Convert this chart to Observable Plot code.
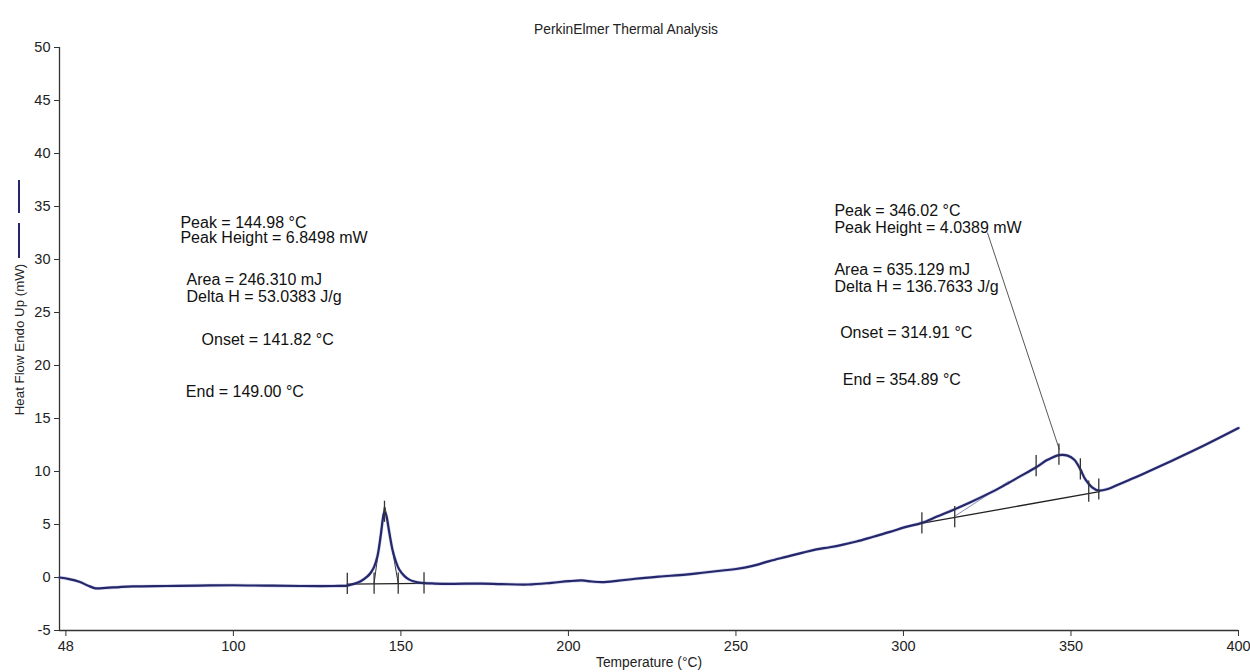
<!DOCTYPE html>
<html>
<head>
<meta charset="utf-8">
<script src="https://cdn.jsdelivr.net/npm/d3@7"></script>
<script src="https://cdn.jsdelivr.net/npm/@observablehq/plot@0.6"></script>
<style>
  html, body { margin: 0; padding: 0; background: #fff; }
  #wrap { position: relative; width: 1250px; height: 672px; font-family: "Liberation Sans", Arial, sans-serif; }
  #title { position: absolute; z-index: 2; left: 0; width: 1252px; top: 22px; text-align: center; font-size: 13.8px; color: #222; }
  #xlabel { position: absolute; z-index: 2; left: 0; width: 1298px; top: 655px; text-align: center; font-size: 13.8px; color: #222; }
  #ylab { position: absolute; z-index: 2; left: 0; top: 0; }
  #wrap svg g[aria-label$="tick label"] text { font-size: 14.5px !important; fill: #222; }
</style>
</head>
<body>
<div id="wrap">
  <div id="title">PerkinElmer Thermal Analysis</div>
  <div id="xlabel">Temperature (°C)</div>
</div>
<script>
// DSC curve: temperature (°C) and heat flow (mW)
const temps = [48.1, 51, 54, 56.5, 58.8, 62, 66, 70, 80, 90, 100, 110, 120, 130, 134, 136, 138, 140, 141, 142, 143, 144, 144.6, 145.1, 145.6, 146.5, 147.5, 148.5, 149.5, 151, 152.5, 154, 156, 160, 165, 174, 180, 188, 195, 200, 204, 207, 210, 215, 220, 227, 235, 240, 246, 250, 255, 260, 265, 270, 274, 278, 282, 286, 291, 296, 300.5, 305.5, 310, 315, 320, 324, 329, 334, 339.6, 343, 346.4, 349, 351, 352.8, 354.3, 356.3, 358.3, 361, 363.3, 367, 371, 380, 390, 400];
const heatFlow = [0.0, -0.15, -0.4, -0.75, -1.02, -0.98, -0.9, -0.84, -0.8, -0.76, -0.73, -0.77, -0.8, -0.8, -0.76, -0.6, -0.35, 0.1, 0.45, 1.0, 2.0, 4.0, 5.5, 6.2, 5.9, 4.3, 2.6, 1.5, 0.75, 0.15, -0.2, -0.38, -0.5, -0.57, -0.6, -0.57, -0.62, -0.66, -0.5, -0.35, -0.28, -0.38, -0.44, -0.3, -0.12, 0.08, 0.28, 0.45, 0.66, 0.8, 1.1, 1.55, 1.95, 2.35, 2.65, 2.85, 3.1, 3.4, 3.85, 4.3, 4.75, 5.15, 5.75, 6.4, 7.1, 7.7, 8.5, 9.4, 10.4, 11.1, 11.55, 11.5, 11.1, 10.2, 9.25, 8.5, 8.2, 8.35, 8.65, 9.15, 9.7, 11.0, 12.5, 14.1];

// integration baselines (start T, start mW, end T, end mW)
const baseT1 = [134.0, 156.9], baseV1 = [-0.62, -0.55];
const baseT2 = [305.3, 358.5], baseV2 = [5.1, 8.1];
// onset / end tangent lines
const tanT = [[142.0, 145.0], [145.3, 149.2]], tanV = [[-0.57, 6.6], [6.6, -0.57]];
const tan2T = [315.3, 331.4], tan2V = [5.78, 9.08];
// marker ticks on the curve (T, centre mW)
const markT = [134.0, 142.0, 149.2, 156.9, 145.1, 305.5, 315.3, 339.6, 346.4, 352.8, 355.3, 358.3];
const markV = [-0.6, -0.58, -0.57, -0.55, 6.2, 5.1, 5.7, 10.5, 11.6, 10.2, 8.1, 8.3];
// leader line from the label to the second peak
const leaderT = [325.1, 346.5], leaderV = [32.5, 12.1];

// annotations
const annText = ["Peak = 144.98 °C", "Peak Height = 6.8498 mW", "Area = 246.310 mJ", "Delta H = 53.0383 J/g", "Onset = 141.82 °C", "End = 149.00 °C",
                 "Peak = 346.02 °C", "Peak Height = 4.0389 mW", "Area = 635.129 mJ", "Delta H = 136.7633 J/g", "Onset = 314.91 °C", "End = 354.89 °C"];
const annT = [84.2, 84.2, 86.0, 86.0, 90.5, 85.8, 279.4, 279.4, 279.4, 279.4, 281.1, 281.9];
const annV = [33.5, 32.0, 28.1, 26.5, 22.4, 17.5, 34.6, 33.0, 29.0, 27.4, 23.1, 18.6];

// axes
const xTicks = [50, 100, 150, 200, 250, 300, 350, 400];
const xTickLabels = ["48", "100", "150", "200", "250", "300", "350", "400"];
const yTicks = [-5, 0, 5, 10, 15, 20, 25, 30, 35, 40, 45, 50];

const curve = temps.map((t, i) => ({t, v: heatFlow[i]}));
const marks = markT.map((t, i) => ({t, v: markV[i]}));
const ann = annText.map((s, i) => ({s, t: annT[i], v: annV[i]}));
const seg = (ts, vs) => [{t: ts[0], v: vs[0]}, {t: ts[1], v: vs[1]}];
const xLab = new Map(xTicks.map((d, i) => [d, xTickLabels[i]]));

const navy = "#25276b";
const chart = Plot.plot({
  width: 1250,
  height: 672,
  marginLeft: 59,
  marginRight: 12,
  marginTop: 47,
  marginBottom: 42,
  style: {fontFamily: "'Liberation Sans', Arial, sans-serif", fontSize: "14px", color: "#222", background: "transparent"},
  x: {domain: [48.1, 400]},
  y: {domain: [-5, 50]},
  marks: [
    Plot.axisX({ticks: xTicks, tickFormat: d => xLab.get(d), tickSize: 6, tickPadding: 4, fontSize: 14, label: null, stroke: "#333"}),
    Plot.axisY({ticks: yTicks, tickFormat: d => String(d), tickSize: 5, tickPadding: 4, fontSize: 14, label: null, stroke: "#333"}),
    Plot.ruleX([48.1], {stroke: "#333", strokeWidth: 1.3}),
    Plot.ruleY([-5], {stroke: "#333", strokeWidth: 1.3}),
    Plot.line(seg(baseT1, baseV1), {x: "t", y: "v", stroke: "#222", strokeWidth: 1.3}),
    Plot.line(seg(baseT2, baseV2), {x: "t", y: "v", stroke: "#222", strokeWidth: 1.3}),
    Plot.line(seg(tanT[0], tanV[0]), {x: "t", y: "v", stroke: "#333", strokeWidth: 1}),
    Plot.line(seg(tanT[1], tanV[1]), {x: "t", y: "v", stroke: "#333", strokeWidth: 1}),
    Plot.line(seg(tan2T, tan2V), {x: "t", y: "v", stroke: "#8a90b8", strokeWidth: 1}),
    Plot.line(seg(leaderT, leaderV), {x: "t", y: "v", stroke: "#444", strokeWidth: 0.9}),
    Plot.line(curve, {x: "t", y: "v", stroke: "#7f86c4", strokeWidth: 3.4, curve: "catmull-rom", strokeOpacity: 0.35}),
    Plot.line(curve, {x: "t", y: "v", stroke: navy, strokeWidth: 2.2, curve: "catmull-rom"}),
    Plot.ruleX(marks, {x: "t", y1: d => d.v - 1.0, y2: d => d.v + 1.0, stroke: "#333", strokeWidth: 1.3}),
    Plot.text(ann, {x: "t", y: "v", text: "s", textAnchor: "start", lineAnchor: "middle", fontSize: 16, fill: "#111"})
  ]
});
const wrap = document.getElementById("wrap");
chart.style.position = "absolute";
chart.style.left = "0px";
chart.style.top = "0px";
chart.style.zIndex = "1";
wrap.insertBefore(chart, wrap.firstChild);

// y-axis label with legend strokes
const ns = "http://www.w3.org/2000/svg";
const ys = document.createElementNS(ns, "svg");
ys.setAttribute("id", "ylab");
ys.setAttribute("width", "40");
ys.setAttribute("height", "672");
ys.innerHTML = `<line x1="19" y1="180" x2="19" y2="213" stroke="${navy}" stroke-width="2"/>
<line x1="19" y1="223" x2="19" y2="258" stroke="${navy}" stroke-width="2"/>
<text transform="translate(24,339.5) rotate(-90)" text-anchor="middle" font-size="13.3" font-family="'Liberation Sans', Arial, sans-serif" fill="#222">Heat Flow Endo Up (mW)</text>`;
wrap.appendChild(ys);
</script>
</body>
</html>
